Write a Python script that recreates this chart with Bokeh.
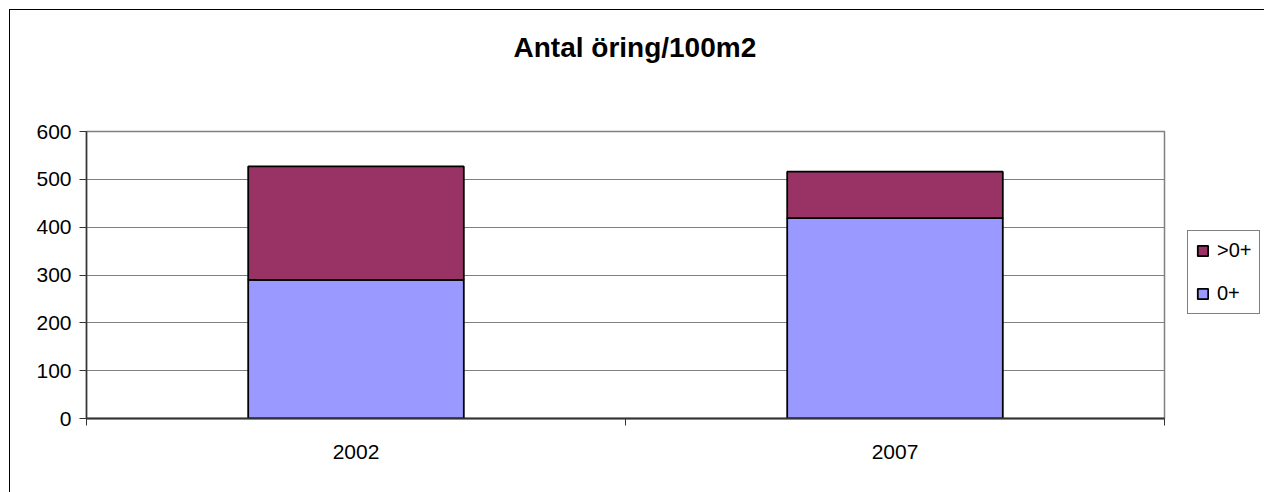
from bokeh.plotting import figure
from bokeh.models import ColumnDataSource, Range1d, FixedTicker, Legend, LegendItem, Title
from bokeh.embed import file_html
from bokeh.resources import INLINE

# ---- data ----
years = ["2002", "2007"]
fry = [290, 419]        # 0+
older = [237, 97]       # >0+
series = ["0+", ">0+"]
colors = ["#9999FF", "#993366"]
y_ticks = [0, 100, 200, 300, 400, 500, 600]
title_text = "Antal öring/100m2"

xpos = [i + 0.5 for i in range(len(years))]
src = ColumnDataSource(dict(x=xpos, year=years, fry=fry, older=older))

FONT = "Liberation Sans"

p = figure(frame_width=1078, frame_height=287, output_backend="svg", toolbar_location=None,
           x_range=Range1d(0, len(years)), y_range=Range1d(0, 600),
           min_border_left=76, min_border_right=100, min_border_top=121,
           min_border_bottom=74, title=title_text)
p.styles = {"margin-left": "9px", "margin-top": "9px",
            "border-left": "1px solid black", "border-top": "1px solid black"}
p.background_fill_color = "white"
p.border_fill_color = "white"
p.outline_line_color = "#808080"
p.outline_line_width = 1.5

p.title.text_font = FONT
p.title.text_font_size = "28px"
p.title.text_font_style = "bold"
p.title.text_color = "black"
p.title.align = "left"
p.title.offset = 427
p.title.standoff = 0

# spacer between the title and the plot area
p.add_layout(Title(text=" ", text_font_size="1px", standoff=66), "above")

renderers = p.vbar_stack(["fry", "older"], x="x", width=0.4, source=src,
                         fill_color=colors, line_color="black", line_width=1.8)

# axes
p.yaxis.ticker = FixedTicker(ticks=y_ticks)
p.yaxis.axis_line_color = "#333333"
p.yaxis.axis_line_width = 1.5
p.yaxis.major_tick_line_color = "#333333"
p.yaxis.major_tick_out = 7
p.yaxis.major_tick_in = 0
p.yaxis.minor_tick_line_color = None
p.yaxis.major_label_text_font = FONT
p.yaxis.major_label_text_font_size = "21px"
p.yaxis.major_label_text_color = "black"
p.yaxis.major_label_standoff = 8

p.xaxis.ticker = FixedTicker(ticks=xpos, minor_ticks=list(range(len(years) + 1)))
p.xaxis.major_label_overrides = {x: y for x, y in zip(xpos, years)}
p.xaxis.axis_line_color = "#333333"
p.xaxis.axis_line_width = 2
p.xaxis.major_tick_line_color = None
p.xaxis.major_tick_out = 0
p.xaxis.major_tick_in = 0
p.xaxis.minor_tick_line_color = "#333333"
p.xaxis.minor_tick_out = 7
p.xaxis.minor_tick_in = 0
p.xaxis.major_label_text_font = FONT
p.xaxis.major_label_text_font_size = "21px"
p.xaxis.major_label_text_color = "black"
p.xaxis.major_label_standoff = 19

p.xgrid.grid_line_color = None
p.ygrid.ticker = FixedTicker(ticks=y_ticks)
p.ygrid.grid_line_color = "#808080"
p.ygrid.grid_line_width = 1

legend = Legend(items=[LegendItem(label=series[1], renderers=[renderers[1]]),
                       LegendItem(label=series[0], renderers=[renderers[0]])],
                location=(23, 104))
legend.border_line_color = "black"
legend.border_line_width = 1
legend.background_fill_color = "white"
legend.background_fill_alpha = 1
legend.label_text_font = FONT
legend.label_text_font_size = "20px"
legend.label_text_color = "black"
legend.glyph_width = 13
legend.glyph_height = 13
legend.label_height = 22
legend.label_standoff = 8
legend.padding = 8
legend.spacing = 20
legend.margin = 0
p.add_layout(legend, "right")

open("out.html", "w").write(file_html(p, INLINE))
